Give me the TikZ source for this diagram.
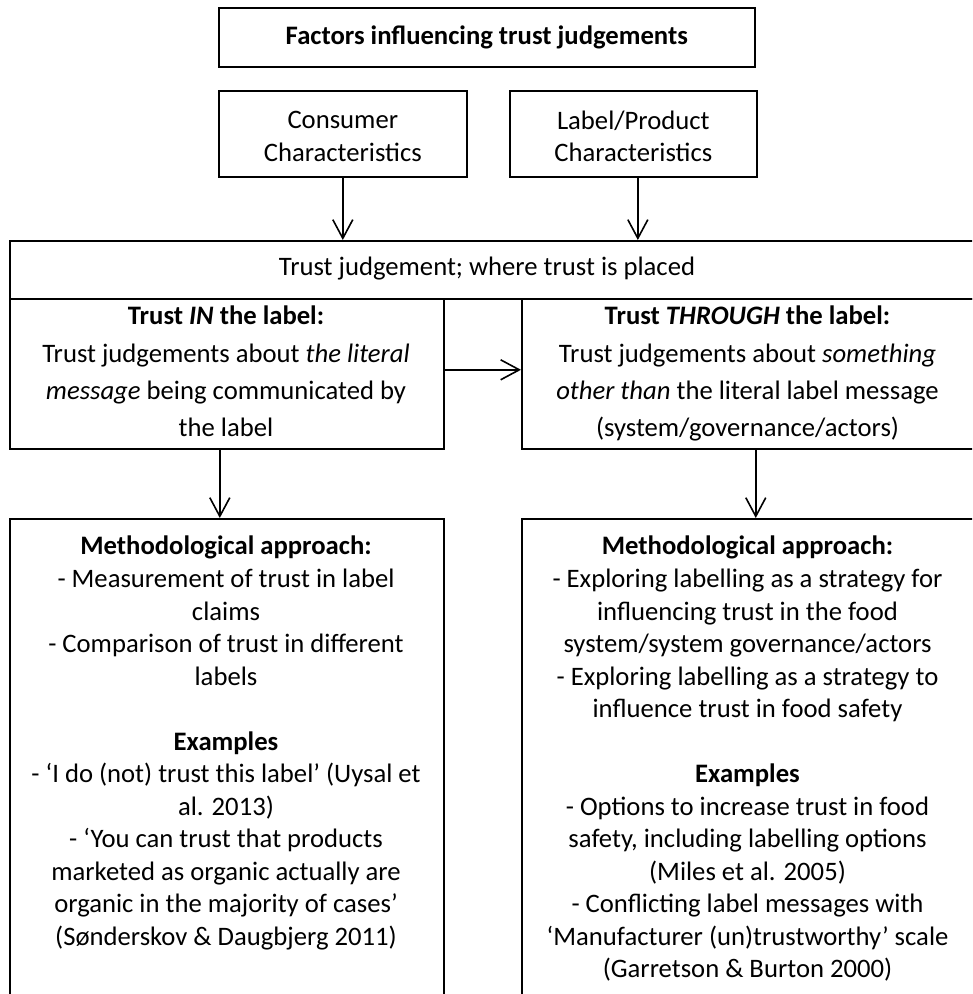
\documentclass[tikz,border=0pt]{standalone}
\usepackage{fontspec}
\setmainfont{Carlito}
\usetikzlibrary{arrows.meta}
\newcommand\boxfont{\fontsize{20}{24.4}\selectfont}
\newcommand\widefont{\fontsize{20}{28}\selectfont}
\begin{document}
\begin{tikzpicture}[x=0.75pt,y=-0.75pt,
  box/.style={draw, line width=1.2pt, inner sep=0pt, anchor=north west},
  txt/.style={align=center, inner sep=0pt, font=\boxfont},
  widetxt/.style={align=center, inner sep=0pt, font=\widefont},
  link/.style={line width=1.2pt, -{Straight Barb[length=14pt,width=15pt,line width=1.2pt]}}]
\useasboundingbox (0,0) rectangle (972,994);
\clip (0,0) rectangle (972,994);

% top row
\node[box, minimum width=402pt, minimum height=44.25pt] (factors) at (218,7) {};
\node[txt] (factorsT) at (factors) {\textbf{Factors influencing trust judgements}};

\node[box, minimum width=186pt, minimum height=64.5pt] (cons) at (218,90) {};
\node[txt] (consT) at ([yshift=-2pt]cons.center) {Consumer\\Characteristics};

\node[box, minimum width=185.25pt, minimum height=64.5pt] (prod) at (509,90) {};
\node[txt] (prodT) at ([yshift=-2pt]prod.center) {Label/Product\\Characteristics};

% trust judgement band
\node[box, minimum width=723.75pt, minimum height=43.5pt] (tj) at (9,240) {};
\node[txt] (tjT) at (487,269) {Trust judgement; where trust is placed};

% trust IN / THROUGH
\node[box, minimum width=325.5pt, minimum height=112.5pt] (inbox) at (9,298) {};
\node[widetxt, anchor=north] (inT) at (226,306) {\textbf{Trust \textit{IN} the label:}\\
Trust judgements about \textit{the literal}\\
\textit{message} being communicated by\\
the label};

\node[box, minimum width=339.75pt, minimum height=112.5pt] (thr) at (521,298) {};
\node[widetxt, anchor=north] (thrT) at (747.5,306) {\textbf{Trust \textit{THROUGH} the label:}\\
Trust judgements about \textit{something}\\
\textit{other than} the literal label message\\
(system/governance/actors)};

% methodological boxes
\node[box, minimum width=325.5pt, minimum height=375pt] (mleft) at (9,518) {};
\node[txt, anchor=north] (mleftT) at (226,536) {\textbf{Methodological approach:}\\
- Measurement of trust in label\\
claims\\
- Comparison of trust in different\\
labels\\[24.4pt]
\textbf{Examples}\\
- ‘I do (not) trust this label’ (Uysal et\\
al. 2013)\\
- ‘You can trust that products\\
marketed as organic actually are\\
organic in the majority of cases’\\
(Sønderskov \& Daugbjerg 2011)};

\node[box, minimum width=339.75pt, minimum height=375pt] (mright) at (521,518) {};
\node[txt, anchor=north] (mrightT) at (747.5,536) {\textbf{Methodological approach:}\\
- Exploring labelling as a strategy for\\
influencing trust in the food\\
system/system governance/actors\\
- Exploring labelling as a strategy to\\
influence trust in food safety\\[24.4pt]
\textbf{Examples}\\
- Options to increase trust in food\\
safety, including labelling options\\
(Miles et al. 2005)\\
- Conflicting label messages with\\
‘Manufacturer (un)trustworthy’ scale\\
(Garretson \& Burton 2000)};

% connectors
\draw[link] (cons.south) -- (cons.south |- tj.north);
\draw[link] ([xshift=3.4pt]prod.south) -- ([xshift=3.4pt]prod.south |- tj.north);
\draw[link] ([yshift=3pt]inbox.east) -- ([yshift=3pt]inbox.east -| thr.west);
\draw[link] ([xshift=-5.25pt]inbox.south) -- ([xshift=-5.25pt]inbox.south |- mleft.north);
\draw[link] ([xshift=5.6pt]thr.south) -- ([xshift=5.6pt]thr.south |- mright.north);
\end{tikzpicture}
\end{document}
